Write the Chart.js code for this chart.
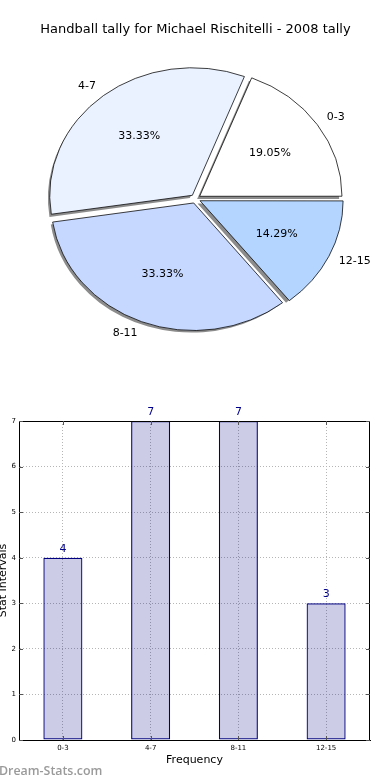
<!DOCTYPE html>
<html>
<head>
<meta charset="utf-8">
<script src="https://cdn.jsdelivr.net/npm/chart.js@4.4.1/dist/chart.umd.min.js"></script>
<style>
  body { margin: 0; background: #fff; width: 390px; height: 780px; overflow: hidden; position: relative; font-family: "DejaVu Sans", sans-serif; }
  #pieChart { position: absolute; left: 0; top: 0; }
  #barChart { position: absolute; left: 0; top: 380px; }
  #mark { position: absolute; left: -1px; top: 762px; font-family: "Open Sans", sans-serif; font-weight: 600; font-size: 12.4px; color: #9a9a9a; }
</style>
</head>
<body>
<canvas id="pieChart" width="390" height="380"></canvas>
<canvas id="barChart" width="390" height="400"></canvas>
<div id="mark">Dream-Stats.com</div>
<script>
// data
const categories = ["0-3", "4-7", "8-11", "12-15"];
const counts = [4, 7, 7, 3];
const sliceColors = ["#ffffff", "#eaf1ff", "#c6d8ff", "#b3d5ff"];
const yTicks = [0, 1, 2, 3, 4, 5, 6, 7];
const titleText = "Handball tally for Michael Rischitelli - 2008 tally";

const FONT = "DejaVu Sans";
const squash = 0.894; // pie is drawn a bit flat, like the original

// matplotlib goes counter-clockwise, Chart.js clockwise -> reverse order
const pieLabels = categories.slice().reverse();
const pieValues = counts.slice().reverse();
const pieColors = sliceColors.slice().reverse();
const total = counts.reduce((a, b) => a + b, 0);

const pieLook = {
  id: "pieLook",
  beforeDatasetsDraw(chart) {
    const ctx = chart.ctx;
    const meta = chart.getDatasetMeta(0);
    const c = meta.data[0];
    ctx.save();
    ctx.translate(c.x, c.y);
    ctx.scale(1, squash);
    ctx.translate(-c.x, -c.y);
    // grey shadow under every slice, shifted left/down
    ctx.save();
    ctx.fillStyle = "#8c8c8c";
    meta.data.forEach(a => {
      const mid = (a.startAngle + a.endAngle) / 2;
      const shift = (a.options.offset || 0) / 4;
      const ox = a.x + Math.cos(mid) * shift - 2.5;
      const oy = a.y + Math.sin(mid) * shift + 3;
      ctx.beginPath();
      ctx.moveTo(ox, oy);
      ctx.arc(ox, oy, a.outerRadius, a.startAngle, a.endAngle);
      ctx.closePath();
      ctx.fill();
    });
    ctx.restore();
  },
  afterDatasetsDraw(chart) {
    const ctx = chart.ctx;
    ctx.restore();
    const meta = chart.getDatasetMeta(0);
    ctx.save();
    ctx.fillStyle = "#000";
    ctx.font = "11px '" + FONT + "'";
    ctx.textBaseline = "middle";
    meta.data.forEach((a, i) => {
      const mid = (a.startAngle + a.endAngle) / 2;
      const shift = (a.options.offset || 0) / 4;
      const r = a.outerRadius;
      const right = Math.cos(mid) > 0;
      // outer label
      const lx = a.x + (right ? -2 : 1) + Math.cos(mid) * (shift + r * 1.1);
      const ly = a.y + Math.sin(mid) * (shift + r * 1.1) * squash;
      ctx.textAlign = right ? "left" : "right";
      ctx.fillText(pieLabels[i], lx, ly);
      // percent
      const px = a.x + Math.cos(mid) * (shift + r * 0.6);
      const py = a.y + Math.sin(mid) * (shift + r * 0.6) * squash;
      ctx.textAlign = "center";
      ctx.fillText((pieValues[i] / total * 100).toFixed(2) + "%", px, py);
    });
    ctx.restore();
  }
};

new Chart(document.getElementById("pieChart"), {
  type: "pie",
  data: {
    labels: pieLabels,
    datasets: [{
      data: pieValues,
      backgroundColor: pieColors,
      borderColor: "#000",
      borderWidth: 0.8,
      offset: 20,
      radius: 142
    }]
  },
  options: {
    responsive: false,
    animation: false,
    rotation: 90,
    layout: { padding: { left: 1, right: 0, top: 0, bottom: 20 } },
    plugins: {
      legend: { display: false },
      tooltip: { enabled: false },
      title: {
        display: true,
        text: titleText,
        color: "#000",
        font: { family: FONT, size: 13, weight: "normal" },
        padding: { top: 22, bottom: 0 }
      }
    }
  },
  plugins: [pieLook]
});

// bar chart: box, inward ticks and the value labels
const barLook = {
  id: "barLook",
  afterDatasetsDraw(chart) {
    const ctx = chart.ctx;
    const area = chart.chartArea;
    const xs = chart.scales.x, ys = chart.scales.y;
    ctx.save();
    ctx.strokeStyle = "#000";
    ctx.lineWidth = 1;
    ctx.setLineDash([]);
    ctx.strokeRect(Math.round(area.left) + 0.5, Math.round(area.top) + 0.5,
      Math.round(area.right - area.left) - 1, Math.round(area.bottom - area.top));
    ctx.strokeStyle = "#555";
    ctx.beginPath();
    yTicks.forEach(v => {
      const y = Math.round(ys.getPixelForValue(v)) + 0.5;
      ctx.moveTo(area.left, y); ctx.lineTo(area.left + 4, y);
      ctx.moveTo(area.right, y); ctx.lineTo(area.right - 4, y);
    });
    categories.forEach((c, i) => {
      const x = Math.round(xs.getPixelForValue(i)) + 0.5;
      ctx.moveTo(x, area.bottom); ctx.lineTo(x, area.bottom - 4);
      ctx.moveTo(x, area.top); ctx.lineTo(x, area.top + 4);
    });
    ctx.stroke();

    ctx.fillStyle = "#00008b";
    ctx.font = "11px '" + FONT + "'";
    ctx.textAlign = "center";
    ctx.textBaseline = "middle";
    chart.getDatasetMeta(0).data.forEach((bar, i) => {
      ctx.fillText(String(counts[i]), bar.x, bar.y - 9);
    });
    ctx.restore();
  }
};

new Chart(document.getElementById("barChart"), {
  type: "bar",
  data: {
    labels: categories,
    datasets: [{
      data: counts,
      backgroundColor: "rgba(0,0,128,0.2)",
      borderColor: "#000080",
      borderWidth: 1.2,
      borderSkipped: false,
      barPercentage: 0.445,
      categoryPercentage: 1
    }]
  },
  options: {
    responsive: false,
    animation: false,
    layout: { padding: { top: 41, right: 20, left: 0, bottom: 0 } },
    plugins: { legend: { display: false }, tooltip: { enabled: false } },
    scales: {
      x: {
        grid: { offset: false, color: "#b5b5b5", drawTicks: false },
        border: { display: true, color: "#000", dash: [1, 2] },
        ticks: { color: "#000", font: { family: FONT, size: 7 }, padding: 4 },
        title: { display: true, text: "Frequency", color: "#000", font: { family: FONT, size: 11 }, padding: { top: 0, bottom: 13 } },
        afterFit(scale) { scale.height = 40; }
      },
      y: {
        min: 0,
        max: 7,
        grid: { color: "#b5b5b5", drawTicks: false },
        border: { display: true, color: "#000", dash: [1, 2] },
        ticks: { stepSize: 1, color: "#000", font: { family: FONT, size: 7 }, padding: 3 },
        title: { display: true, text: "Stat Intervals", color: "#000", font: { family: FONT, size: 11 }, padding: { top: -3, bottom: 0 } },
        afterFit(scale) { scale.width = 19; }
      }
    }
  },
  plugins: [barLook]
});
</script>
</body>
</html>
